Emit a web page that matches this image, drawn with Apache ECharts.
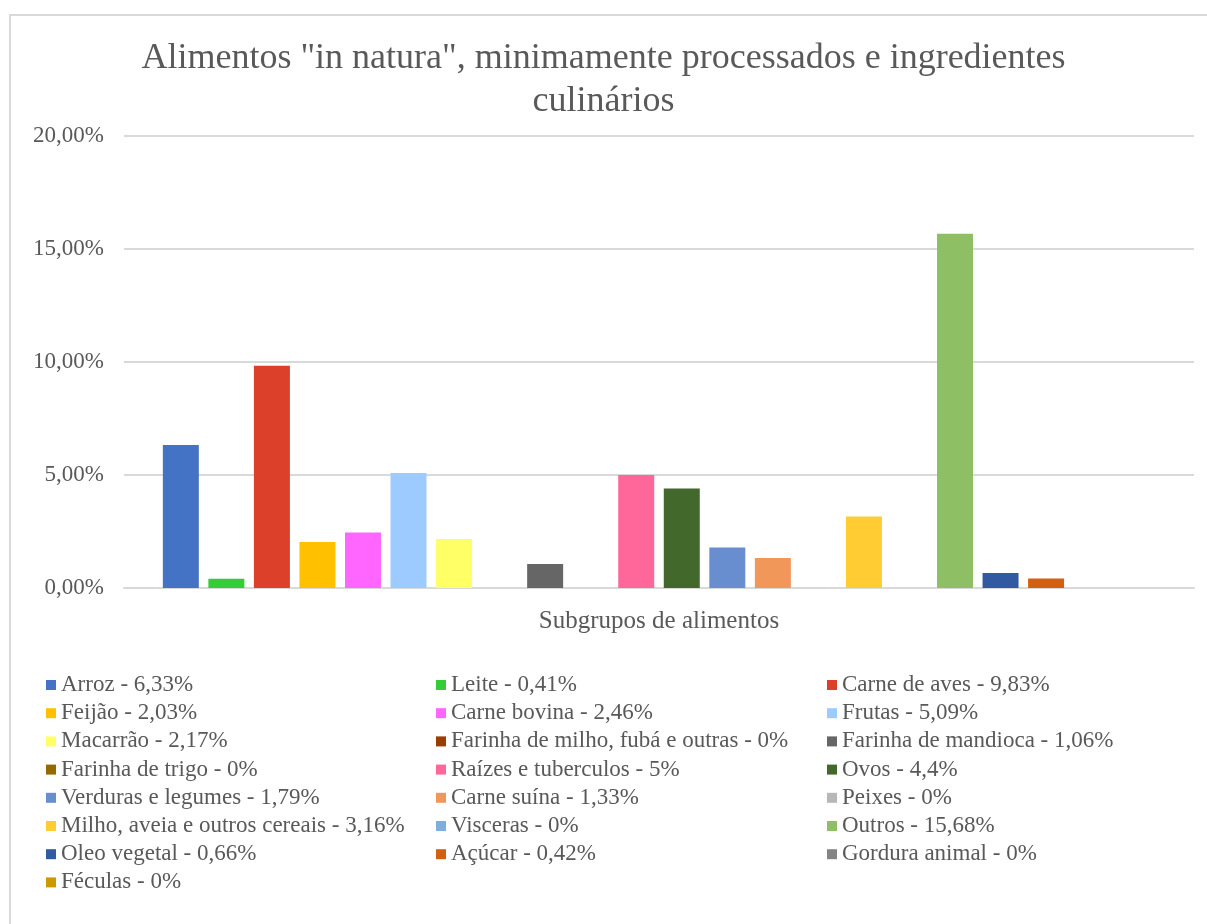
<!DOCTYPE html>
<html>
<head>
<meta charset="utf-8">
<script src="https://cdn.jsdelivr.net/npm/echarts@6/dist/echarts.min.js"></script>
<style>
  html, body { margin: 0; padding: 0; background: #ffffff; }
  #chart { width: 1207px; height: 924px; }
</style>
</head>
<body>
<div id="chart"></div>
<script>
// ---- Data ----
const categories = [
  'Arroz', 'Leite', 'Carne de aves', 'Feijão', 'Carne bovina', 'Frutas',
  'Macarrão', 'Farinha de milho, fubá e outras', 'Farinha de mandioca',
  'Farinha de trigo', 'Raízes e tuberculos', 'Ovos', 'Verduras e legumes',
  'Carne suína', 'Peixes', 'Milho, aveia e outros cereais', 'Visceras',
  'Outros', 'Oleo vegetal', 'Açúcar', 'Gordura animal', 'Féculas'
];
const values = [
  6.33, 0.41, 9.83, 2.03, 2.46, 5.09,
  2.17, 0, 1.06,
  0, 5, 4.4, 1.79,
  1.33, 0, 3.16, 0,
  15.68, 0.66, 0.42, 0, 0
];
const yTicks = { min: 0, max: 20, interval: 5 };
const titleText = 'Alimentos "in natura", minimamente processados e ingredientes\nculinários';
const xAxisName = 'Subgrupos de alimentos';

// ---- Palette (styles) ----
const palette = [
  '#4472C4', '#35CC3A', '#DC3F2A', '#FFC000', '#FF66FF', '#9DCBFF',
  '#FFFF66', '#993D00', '#666666', '#946A00', '#FF6699', '#43682B',
  '#698ED0', '#F1975A', '#B7B7B7', '#FFCD33', '#7CAFDD', '#8FBF65',
  '#325AA3', '#D26012', '#848484', '#CC9900'
];

const FONT = '"Liberation Serif", "Times New Roman", serif';
const TXT = '#595959';

const names = categories.map((c, i) => c + ' - ' + String(values[i]).replace('.', ',') + '%');

const series = names.map((n, i) => ({
  name: n,
  type: 'bar',
  data: [values[i]],
  barWidth: 36,
  barGap: '26.5%',
  itemStyle: { color: palette[i] },
  emphasis: { disabled: true }
}));

const cols = [[], [], []];
names.forEach((n, i) => cols[i % 3].push(n));
const colLeft = [46, 436, 827];

const legends = cols.map((c, k) => ({
  data: c,
  orient: 'vertical',
  left: colLeft[k],
  top: 671,
  padding: 0,
  itemGap: 0.2,
  itemWidth: 10,
  itemHeight: 10,
  icon: 'rect',
  selectedMode: false,
  textStyle: { fontFamily: FONT, fontSize: 23, color: TXT, lineHeight: 28 }
}));

const chart = echarts.init(document.getElementById('chart'));
chart.setOption({
  backgroundColor: '#ffffff',
  animation: false,
  title: {
    text: titleText,
    left: 'center',
    top: 37,
    padding: [0, 0, 0, 24],
    textStyle: { fontFamily: FONT, fontSize: 36, fontWeight: 'normal', color: TXT, lineHeight: 43 }
  },
  graphic: [{
    type: 'rect',
    shape: { x: 10, y: 15, width: 1400, height: 1100 },
    style: { fill: 'none', stroke: '#d9d9d9', lineWidth: 2 },
    silent: true,
    z: -10
  }],
  legend: legends,
  grid: { left: 124, top: 136, width: 1070, height: 452 },
  xAxis: {
    type: 'category',
    data: [''],
    name: xAxisName,
    nameLocation: 'middle',
    nameGap: 21,
    nameTextStyle: { fontFamily: FONT, fontSize: 25, color: TXT },
    axisLine: { lineStyle: { color: '#d9d9d9', width: 2 } },
    axisTick: { show: false },
    axisLabel: { show: false }
  },
  yAxis: {
    type: 'value',
    min: yTicks.min,
    max: yTicks.max,
    interval: yTicks.interval,
    axisLine: { show: false },
    axisTick: { show: false },
    axisLabel: {
      margin: 20,
      fontFamily: FONT,
      fontSize: 23,
      color: TXT,
      formatter: v => v.toFixed(2).replace('.', ',') + '%'
    },
    splitLine: { lineStyle: { color: '#d9d9d9', width: 2 } }
  },
  series: series
});
</script>
</body>
</html>
